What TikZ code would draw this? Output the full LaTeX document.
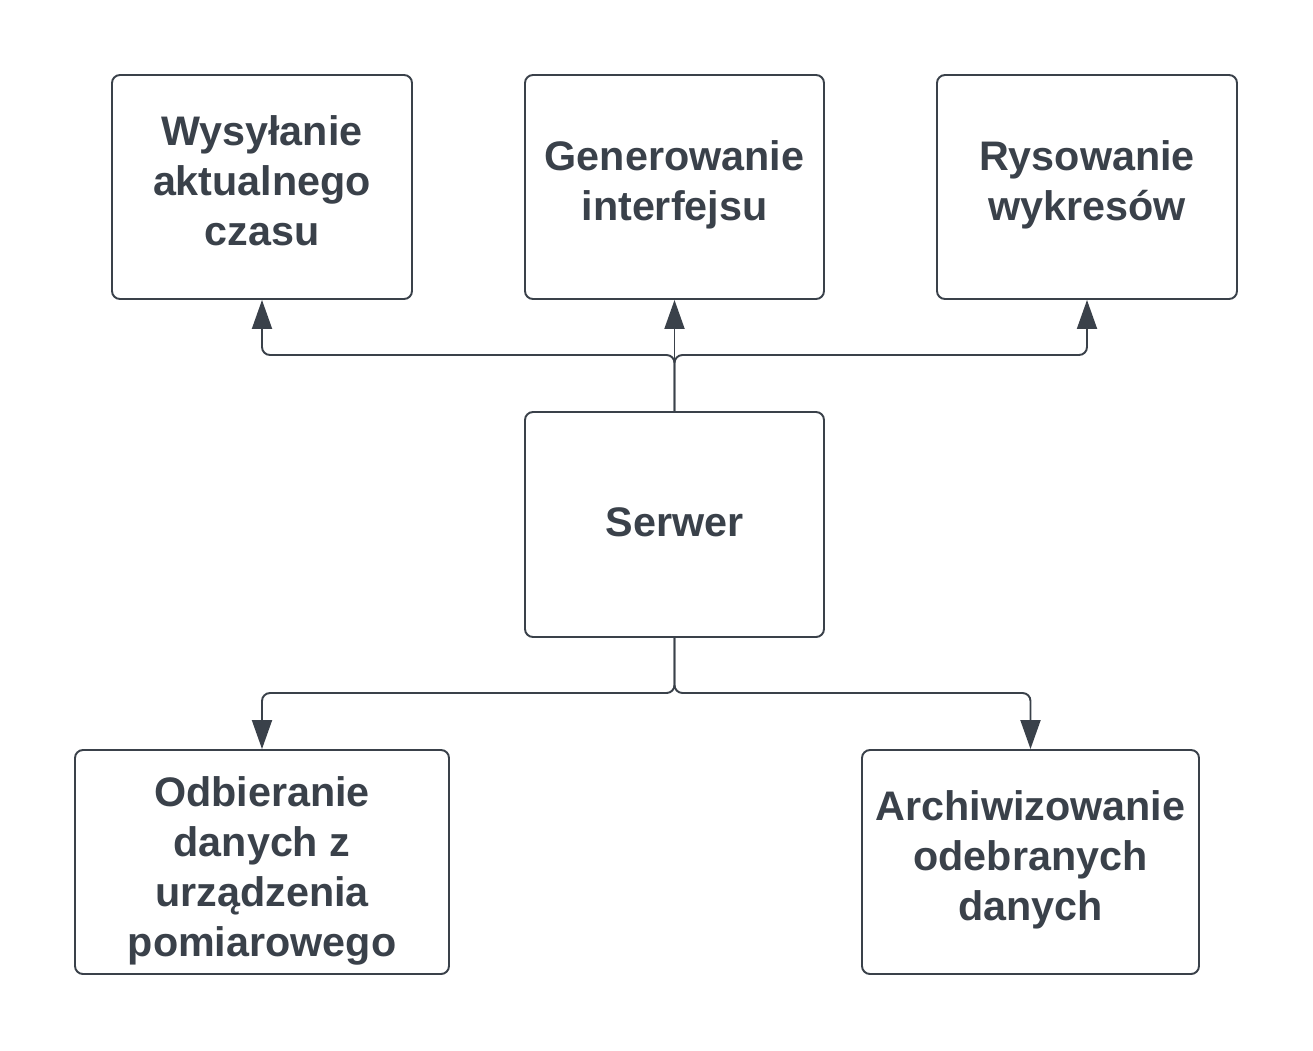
\documentclass[tikz,border=0pt]{standalone}
\usepackage{fontspec}
\setmainfont{Liberation Sans}
\usepackage{tikz}
\usetikzlibrary{arrows.meta}

\definecolor{ciemny}{HTML}{3A414A}
\newcommand{\wiersz}{\rule[-2.6mm]{0pt}{10mm}}

\tikzset{
    blok/.style = {draw = ciemny, line width = 1.1pt, rounded corners = 1.6mm,
                   fill = white, text = ciemny, align = center, inner sep = 0pt,
                   minimum height = 4.48cm,
                   font = \bfseries\fontsize{23.5}{28.45}\selectfont,
                   execute at begin node = \wiersz,
                   execute at end node = \wiersz},
    polaczenie/.style = {draw = ciemny, line width = 1.1pt, rounded corners = 1.6mm,
                   -{Triangle[length = 5.8mm, width = 4mm]}}
}

\begin{document}
\begin{tikzpicture}
        \useasboundingbox (0, 0) rectangle (26.26, -21);

        \node [blok, minimum width = 6cm] (wysylanie) at (5.24, -3.74) {Wysyłanie\\aktualnego\\czasu};
        \node [blok, minimum width = 5.98cm] (generowanie) at (13.49, -3.74) {Generowanie\\interfejsu};
        \node [blok, minimum width = 6cm] (rysowanie) at (21.74, -3.74) {Rysowanie\\wykresów};
        \node [blok, minimum width = 5.98cm, minimum height = 4.5cm] (serwer) at (13.49, -10.49) {Serwer};
        \node [blok, minimum width = 7.48cm] (odbieranie) at (5.24, -17.24) {\rule{0pt}{10.5mm}Odbieranie\\danych z\\urządzenia\\pomiarowego};
        \node [blok, minimum width = 6.74cm] (archiwizowanie) at (20.61, -17.24) {Archiwizowanie\\odebranych\\danych};

        \coordinate (gora) at (13.49, -7.1);
        \coordinate (dol) at (13.49, -13.86);

        \draw [polaczenie] (serwer.north) -- (gora) -| (wysylanie.south);
        \draw [polaczenie] (serwer.north) -- (generowanie.south);
        \draw [polaczenie] (serwer.north) -- (gora) -| (rysowanie.south);
        \draw [polaczenie] (serwer.south) -- (dol) -| (odbieranie.north);
        \draw [polaczenie] (serwer.south) -- (dol) -| (archiwizowanie.north);
    \end{tikzpicture}
\end{document}
